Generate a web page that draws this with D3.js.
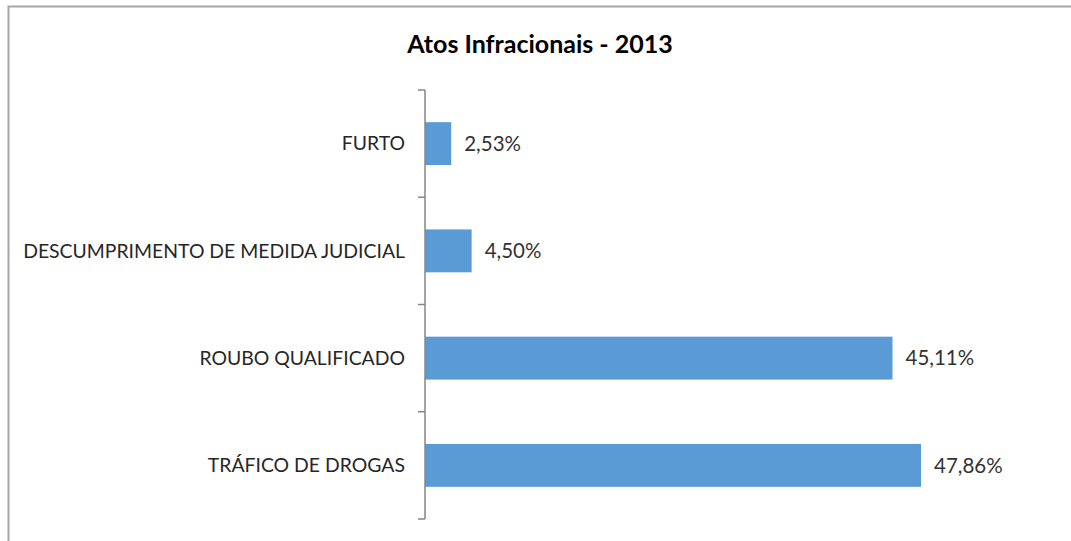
<!DOCTYPE html>
<html><head><meta charset="utf-8">
<script src="https://cdn.jsdelivr.net/npm/d3@7"></script>
<style>body{margin:0;background:#fff;} svg{display:block;}</style>
</head><body>
<script>
const categories = ["FURTO", "DESCUMPRIMENTO DE MEDIDA JUDICIAL", "ROUBO QUALIFICADO", "TRÁFICO DE DROGAS"];
const values = [2.53, 4.50, 45.11, 47.86];
const valueLabels = ["2,53%", "4,50%", "45,11%", "47,86%"];
const title = "Atos Infracionais - 2013";

const W = 1071, H = 541;
const svg = d3.select("body").append("svg").attr("width", W).attr("height", H);
const font = "Lato, 'Open Sans', sans-serif";

// frame
svg.append("path").attr("d", `M8.5,${H} V6.5 H${W}`).attr("fill","none").attr("stroke","#a6a6a6").attr("stroke-width",2);

const x0 = 425;
const x = d3.scaleLinear().domain([0, 47.86]).range([x0, 921]);
const y = d3.scaleBand().domain(categories).range([90, 519]).paddingInner(0.6).paddingOuter(0.3);

svg.append("text").attr("x", 540).attr("y", 53).attr("text-anchor","middle")
  .attr("font-family", font).attr("font-weight","bold").attr("font-size", 25).attr("fill","#000").text(title);

svg.selectAll("rect.bar").data(categories).join("rect").attr("class","bar")
  .attr("x", x0).attr("y", d => y(d)).attr("height", y.bandwidth())
  .attr("width", (d,i) => x(values[i]) - x0).attr("fill", "#5b9bd5");

// axis
const yAxis = d3.axisLeft(y).tickSize(0).tickFormat("");
const ag = svg.append("g").attr("transform", `translate(${x0},0)`).call(yAxis);
ag.select(".domain").remove();
svg.append("line").attr("x1", x0).attr("x2", x0).attr("y1", 90).attr("y2", 519).attr("stroke","#868686").attr("stroke-width",1.5);
const step = y.step();
const tickYs = d3.range(categories.length + 1).map(i => 90 + i * step);
svg.selectAll("line.tick").data(tickYs).join("line").attr("class","tick")
  .attr("x1", x0 - 7).attr("x2", x0).attr("y1", d => d).attr("y2", d => d).attr("stroke","#868686").attr("stroke-width",1.5);

svg.selectAll("text.cat").data(categories).join("text").attr("class","cat")
  .attr("x", 405).attr("y", d => y(d) + y.bandwidth()/2).attr("dy","0.35em")
  .attr("text-anchor","end").attr("font-family", font).attr("font-size", 19.4).attr("fill","#262626").text(d => d);

svg.selectAll("text.val").data(categories).join("text").attr("class","val")
  .attr("x", (d,i) => x(values[i]) + 13).attr("y", d => y(d) + y.bandwidth()/2).attr("dy","0.35em")
  .attr("font-family", font).attr("font-size", 20.5).attr("fill","#333").text((d,i) => valueLabels[i]);
</script>
</body></html>
